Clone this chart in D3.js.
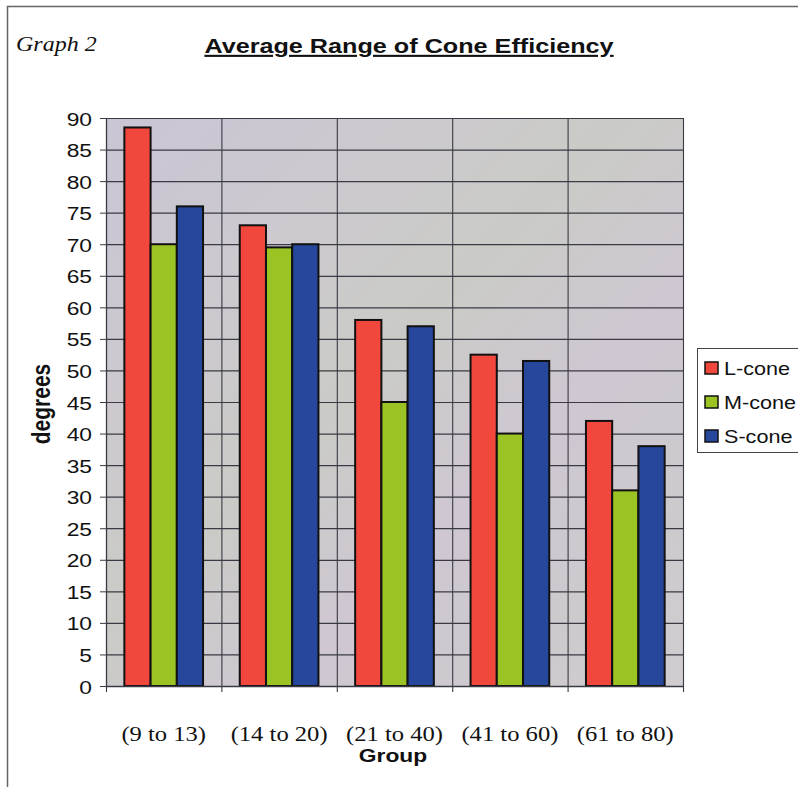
<!DOCTYPE html>
<html>
<head>
<meta charset="utf-8">
<script src="https://cdn.jsdelivr.net/npm/d3@7"></script>
<style>
  html, body { margin: 0; padding: 0; background: #fff; }
  svg { display: block; }
</style>
</head>
<body>
<script>
const categories = ["(9 to 13)", "(14 to 20)", "(21 to 40)", "(41 to 60)", "(61 to 80)"];
const seriesNames = ["L-cone", "M-cone", "S-cone"];
const lCone = [88.5, 73, 58, 52.5, 42];
const mCone = [70, 69.5, 45, 40, 31];
const sCone = [76, 70, 57, 51.5, 38];
const yTicks = [0, 5, 10, 15, 20, 25, 30, 35, 40, 45, 50, 55, 60, 65, 70, 75, 80, 85, 90];
const colors = ["#f2473c", "#9cc324", "#26479b"];

const W = 798, H = 787;
const SX = 1.2; // horizontal text stretch seen in the reference
const svg = d3.select("body").append("svg").attr("width", W).attr("height", H);

const defs = svg.append("defs");
const grad = defs.append("linearGradient").attr("id", "bg")
  .attr("x1", "0%").attr("y1", "0%").attr("x2", "100%").attr("y2", "100%");
grad.append("stop").attr("offset", "0%").attr("stop-color", "#c9c5d4");
grad.append("stop").attr("offset", "25%").attr("stop-color", "#cdc9cf");
grad.append("stop").attr("offset", "45%").attr("stop-color", "#cacbc6");
grad.append("stop").attr("offset", "65%").attr("stop-color", "#cfc7d2");
grad.append("stop").attr("offset", "85%").attr("stop-color", "#cdcacd");
grad.append("stop").attr("offset", "100%").attr("stop-color", "#d1cccf");

// outer frame
svg.append("rect").attr("x", 7.5).attr("y", 6.5).attr("width", 800).attr("height", 800)
  .attr("fill", "none").attr("stroke", "#666").attr("stroke-width", 1.5);

const plot = { left: 106, right: 683, top: 118, bottom: 686 };

const x = d3.scaleBand().domain(categories).range([plot.left, plot.right]).paddingInner(0).paddingOuter(0);
const xs = d3.scaleBand().domain(seriesNames).range([0, x.bandwidth()]).paddingOuter(0.7).paddingInner(0);
const y = d3.scaleLinear().domain([0, 90]).range([plot.bottom, plot.top]);

// background
svg.append("rect").attr("x", plot.left).attr("y", plot.top)
  .attr("width", plot.right - plot.left).attr("height", plot.bottom - plot.top)
  .attr("fill", "url(#bg)");

// horizontal gridlines
svg.append("g").selectAll("line").data(yTicks.filter(d => d > 0)).join("line")
  .attr("x1", plot.left).attr("x2", plot.right)
  .attr("y1", d => y(d) + 0.5).attr("y2", d => y(d) + 0.5)
  .attr("stroke", "#3a3a44").attr("stroke-width", 1.2);

// vertical gridlines at category boundaries
const bounds = categories.map(c => x(c)).concat([plot.right]);
svg.append("g").selectAll("line").data(bounds).join("line")
  .attr("x1", d => d + 0.5).attr("x2", d => d + 0.5)
  .attr("y1", plot.top).attr("y2", plot.bottom + 6)
  .attr("stroke", "#3a3a44").attr("stroke-width", 1.1);

// bars
const data = categories.map((c, i) => ({ cat: c, vals: [lCone[i], mCone[i], sCone[i]] }));
const groups = svg.append("g").selectAll("g").data(data).join("g")
  .attr("transform", d => `translate(${x(d.cat)},0)`);
groups.selectAll("rect").data(d => d.vals.map((v, j) => ({ name: seriesNames[j], v, j }))).join("rect")
  .attr("x", d => xs(d.name))
  .attr("width", xs.bandwidth())
  .attr("y", d => y(d.v))
  .attr("height", d => y(0) - y(d.v))
  .attr("fill", d => colors[d.j])
  .attr("stroke", "#111")
  .attr("stroke-width", 2);

// y axis
const yAxis = d3.axisLeft(y).tickValues(yTicks).tickSize(6).tickFormat(d3.format("d"));
const ya = svg.append("g").attr("transform", `translate(${plot.left},0)`).call(yAxis);
ya.select(".domain").attr("stroke", "#3a3a44").attr("stroke-width", 1.2);
ya.selectAll(".tick line").attr("stroke", "#3a3a44");
ya.selectAll(".tick text")
  .attr("x", null).attr("dy", null)
  .attr("transform", `translate(-14,7) scale(${SX},1)`)
  .attr("font-family", "Liberation Sans, Arial, sans-serif")
  .attr("font-size", 19).attr("fill", "#111");

// x axis baseline
svg.append("line").attr("x1", plot.left).attr("x2", plot.right)
  .attr("y1", plot.bottom + 0.5).attr("y2", plot.bottom + 0.5)
  .attr("stroke", "#3a3a44").attr("stroke-width", 1.5);

// helper for stretched text
function stext(px, py, size, opts) {
  const t = svg.append("text")
    .attr("transform", `translate(${px},${py}) scale(${SX},1)`)
    .attr("font-size", size).attr("fill", "#111");
  Object.entries(opts).forEach(([k, v]) => t.attr(k, v));
  return t;
}

// x labels
svg.append("g").selectAll("text").data(categories).join("text")
  .attr("transform", d => `translate(${x(d) + x.bandwidth() / 2},741) scale(${SX},1)`)
  .attr("text-anchor", "middle")
  .attr("font-family", "Liberation Serif, Times New Roman, serif")
  .attr("font-size", 20.5).attr("fill", "#111")
  .text(d => d);

// axis titles
stext(393, 762, 19, { "text-anchor": "middle", "font-family": "Liberation Sans, Arial, sans-serif", "font-weight": "bold" })
  .text("Group");
svg.append("text").attr("transform", `translate(50,404) rotate(-90) scale(1,${SX})`).attr("text-anchor", "middle")
  .attr("font-family", "Liberation Sans, Arial, sans-serif").attr("font-weight", "bold")
  .attr("font-size", 21).attr("fill", "#111").text("degrees");

// title
stext(409, 53, 21, { "text-anchor": "middle", "font-family": "Liberation Sans, Arial, sans-serif", "font-weight": "bold", "text-decoration": "underline" })
  .text("Average Range of Cone Efficiency");
stext(16, 51, 20, { "font-family": "Liberation Serif, Times New Roman, serif", "font-style": "italic" })
  .text("Graph 2");

// legend
const lg = svg.append("g");
lg.append("rect").attr("x", 697.5).attr("y", 348.5).attr("width", 120).attr("height", 104)
  .attr("fill", "#fff").attr("stroke", "#444").attr("stroke-width", 1);
const items = lg.selectAll("g").data(seriesNames).join("g")
  .attr("transform", (d, i) => `translate(0,${368 + i * 34})`);
items.append("rect").attr("x", 705).attr("y", -6).attr("width", 13).attr("height", 12)
  .attr("fill", (d, i) => colors[i]).attr("stroke", "#111").attr("stroke-width", 1.5);
items.append("text").attr("transform", `translate(724,7) scale(${SX},1)`)
  .attr("font-family", "Liberation Sans, Arial, sans-serif").attr("font-size", 18).attr("fill", "#111")
  .text(d => d);
</script>
</body>
</html>
